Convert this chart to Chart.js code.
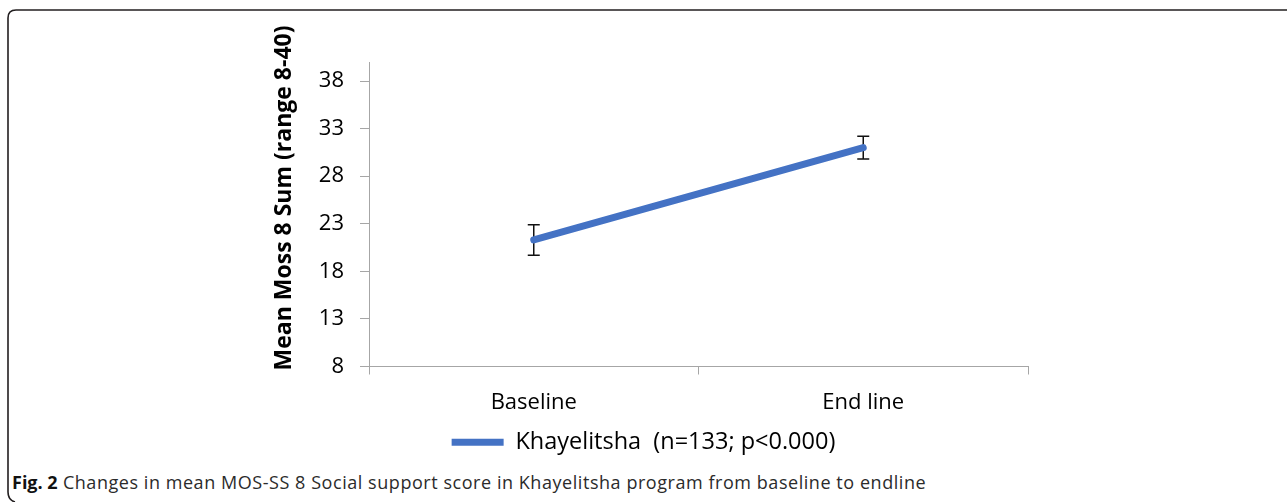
<!DOCTYPE html>
<html>
<head>
<meta charset="utf-8">
<script src="https://cdn.jsdelivr.net/npm/chart.js@4.4.1/dist/chart.umd.min.js"></script>
<style>
  html, body { margin: 0; padding: 0; background: #fff; }
  #figure { position: relative; width: 1287px; height: 502px; overflow: hidden; background: #fff; }
  #chartBox { position: absolute; left: 0; top: 0; width: 1287px; height: 470px; }
  #frame { position: absolute; left: 0; top: 0; }
  #caption {
    position: absolute; left: 12px; top: 470px; white-space: nowrap;
    font-family: 'Open Sans', sans-serif; font-size: 18px; letter-spacing: 0.55px; color: #2b2b2b;
  }
  #caption b { color: #111; letter-spacing: 0; }
</style>
</head>
<body>
<div id="figure">
  <svg id="frame" width="1287" height="502">
    <path d="M 15 502 Q 8 500 8 492 L 8 18 Q 8 10 16 10 L 1287 10" fill="none" stroke="#231f20" stroke-width="1.6"/>
  </svg>
  <div id="chartBox"><canvas id="chart"></canvas></div>
  <div id="caption"><b>Fig. 2</b> Changes in mean MOS-SS 8 Social support score in Khayelitsha program from baseline to endline</div>
</div>
<script>
// Time points and mean MOS-SS 8 sum scores with their error margins
const timePoints = ['Baseline', 'End line'];
const meanScores = [21.3, 31.0];
const errorMargins = [1.6, 1.2];
const yTicks = [8, 13, 18, 23, 28, 33, 38];
const seriesLabel = 'Khayelitsha  (n=133; p<0.000)';
const yTitle = 'Mean Moss 8 Sum (range 8-40)';

Chart.defaults.font.family = "'Open Sans', sans-serif";
Chart.defaults.color = '#000';

// Whiskers drawn under the line, positioned through the chart scales
const errorBars = {
  id: 'errorBars',
  beforeDatasetsDraw(chart) {
    const { ctx, scales: { x, y } } = chart;
    ctx.save();
    ctx.strokeStyle = '#111';
    ctx.lineWidth = 1.5;
    meanScores.forEach((m, i) => {
      const px = x.getPixelForValue(i);
      const top = y.getPixelForValue(m + errorMargins[i]);
      const bot = y.getPixelForValue(m - errorMargins[i]);
      ctx.beginPath();
      ctx.moveTo(px, top); ctx.lineTo(px, bot);
      ctx.moveTo(px - 6, top); ctx.lineTo(px + 6, top);
      ctx.moveTo(px - 6, bot); ctx.lineTo(px + 6, bot);
      ctx.stroke();
    });
    ctx.restore();
  }
};

// Rotated bold axis title left of the tick labels
const axisTitle = {
  id: 'axisTitle',
  afterDraw(chart) {
    const { ctx } = chart;
    ctx.save();
    ctx.translate(284, 198);
    ctx.rotate(-Math.PI / 2);
    ctx.font = "bold 23px 'Open Sans', sans-serif";
    ctx.fillStyle = '#000';
    ctx.textAlign = 'center';
    ctx.textBaseline = 'middle';
    ctx.fillText(yTitle, 0, 0);
    ctx.restore();
  }
};

new Chart(document.getElementById('chart'), {
  type: 'line',
  data: {
    labels: timePoints,
    datasets: [{
      label: seriesLabel,
      data: meanScores,
      borderColor: '#4472c4',
      backgroundColor: '#4472c4',
      borderWidth: 7,
      borderCapStyle: 'round',
      pointRadius: 0,
      pointHoverRadius: 0,
      pointStyle: 'line',
      tension: 0
    }]
  },
  options: {
    responsive: true,
    maintainAspectRatio: false,
    animation: false,
    events: [],
    layout: { padding: { top: 62, left: 259, right: 259, bottom: 6 } },
    scales: {
      x: {
        offset: true,
        grid: { offset: true, drawOnChartArea: false, drawTicks: true, tickLength: 8, color: '#a6a6a6' },
        border: { color: '#a6a6a6', width: 1 },
        ticks: { font: { size: 22 }, padding: 15, color: '#000' },
        afterFit(scale) { scale.height = 54; }
      },
      y: {
        min: 8,
        max: 40,
        ticks: { stepSize: 5, font: { size: 22 }, padding: 16, color: '#000' },
        grid: { drawOnChartArea: false, drawTicks: true, tickLength: 9, color: '#a6a6a6' },
        border: { color: '#a6a6a6', width: 1 },
        afterBuildTicks(scale) { scale.ticks = yTicks.map(v => ({ value: v })); },
        afterFit(scale) { scale.width = 110; }
      }
    },
    plugins: {
      legend: {
        position: 'bottom',
        labels: {
          usePointStyle: true,
          pointStyle: 'line',
          pointStyleWidth: 52,
          font: { size: 23.5 },
          color: '#000',
          padding: 10
        }
      },
      tooltip: { enabled: false }
    }
  },
  plugins: [errorBars, axisTitle]
});
</script>
</body>
</html>
